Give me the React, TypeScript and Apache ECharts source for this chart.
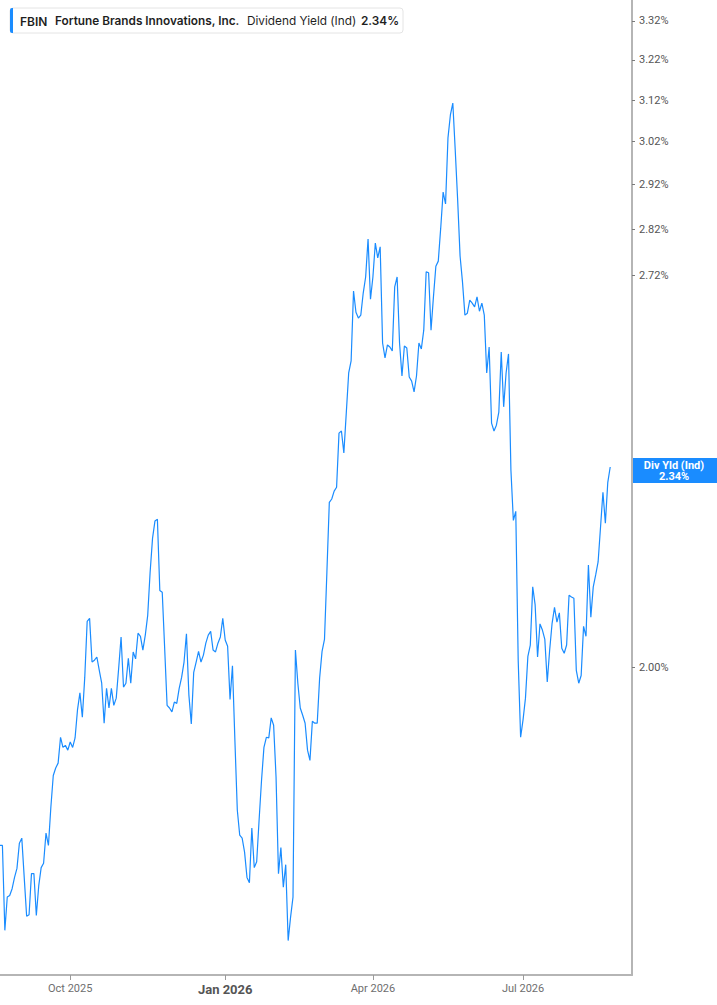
import React, { useEffect, useRef } from "react";
import * as echarts from "echarts";

// ---- data ----
const START_DATE = "2025-08-20";
const SESSION_COUNT = 262;
const HOLIDAYS = [
  "2025-09-01", "2025-11-27", "2025-12-25", "2026-01-01", "2026-01-19",
  "2026-02-16", "2026-04-03", "2026-05-25", "2026-06-19", "2026-07-03", "2026-09-07",
];
const yieldValues = [
  1.739, 1.739, 1.627, 1.670, 1.672, 1.681, 1.696, 1.708, 1.742, 1.749,
  1.696, 1.645, 1.647, 1.701, 1.701, 1.646, 1.685, 1.709, 1.715, 1.756,
  1.739, 1.792, 1.837, 1.848, 1.855, 1.893, 1.878, 1.881, 1.874, 1.886,
  1.878, 1.892, 1.934, 1.960, 1.923, 1.984, 2.073, 2.078, 2.008, 2.011,
  2.016, 1.995, 1.975, 1.914, 1.967, 1.937, 1.967, 1.941, 1.952, 1.998,
  2.048, 1.969, 1.975, 2.014, 1.975, 2.024, 2.013, 2.054, 2.049, 2.027,
  2.051, 2.083, 2.155, 2.213, 2.243, 2.246, 2.124, 2.121, 2.030, 1.941,
  1.937, 1.931, 1.946, 1.944, 1.967, 1.984, 2.008, 2.053, 1.957, 1.913,
  1.992, 2.008, 2.025, 2.008, 2.019, 2.038, 2.051, 2.057, 2.027, 2.024,
  2.038, 2.048, 2.078, 2.043, 2.033, 1.950, 2.002, 1.889, 1.788, 1.753,
  1.749, 1.730, 1.696, 1.689, 1.763, 1.709, 1.717, 1.774, 1.830, 1.878,
  1.893, 1.892, 1.922, 1.911, 1.835, 1.701, 1.736, 1.683, 1.713, 1.614,
  1.644, 1.670, 2.027, 1.975, 1.937, 1.926, 1.914, 1.874, 1.859, 1.917,
  1.914, 1.914, 1.983, 2.025, 2.044, 2.155, 2.276, 2.282, 2.296, 2.303,
  2.403, 2.407, 2.366, 2.441, 2.519, 2.543, 2.686, 2.642, 2.630, 2.636,
  2.682, 2.716, 2.798, 2.669, 2.716, 2.789, 2.757, 2.781, 2.579, 2.549,
  2.575, 2.571, 2.563, 2.695, 2.716, 2.579, 2.513, 2.573, 2.569, 2.511,
  2.503, 2.482, 2.513, 2.579, 2.567, 2.605, 2.727, 2.725, 2.605, 2.674,
  2.739, 2.750, 2.822, 2.903, 2.876, 3.029, 3.084, 3.113, 3.000, 2.885,
  2.761, 2.705, 2.636, 2.640, 2.667, 2.661, 2.653, 2.674, 2.644, 2.661,
  2.636, 2.519, 2.571, 2.422, 2.407, 2.418, 2.443, 2.561, 2.453, 2.519,
  2.557, 2.334, 2.244, 2.260, 2.011, 1.893, 1.919, 1.952, 2.017, 2.035,
  2.130, 2.100, 2.016, 2.069, 2.059, 2.044, 1.977, 2.027, 2.070, 2.096,
  2.072, 2.087, 2.030, 2.022, 2.035, 2.116, 2.113, 2.111, 1.995, 1.975,
  1.987, 2.065, 2.049, 2.167, 2.080, 2.130, 2.150, 2.172, 2.232, 2.294,
  2.239, 2.312, 2.340,
];
const yTickValues = [2.0, 2.72, 2.82, 2.92, 3.02, 3.12, 3.22, 3.32];
const Y_MIN = 1.571;
const Y_MAX = 3.375;
const quarterMonths = [0, 3, 6, 9];
const monthNames = ["Jan", "Feb", "Mar", "Apr", "May", "Jun", "Jul", "Aug", "Sep", "Oct", "Nov", "Dec"];
const LAST_VALUE = 2.34;
const TICKER = "FBIN";
const COMPANY = "Fortune Brands Innovations, Inc.";
const METRIC = "Dividend Yield (Ind)";
const SHORT_METRIC = "Div Yld (Ind)";

const BLUE = "#1a8cff";

function tradingDays(start: string, count: number, holidays: string[]): string[] {
  const out: string[] = [];
  const d = new Date(start + "T00:00:00Z");
  while (out.length < count) {
    const dow = d.getUTCDay();
    const s = d.toISOString().slice(0, 10);
    if (dow !== 0 && dow !== 6 && holidays.indexOf(s) < 0) out.push(s);
    d.setUTCDate(d.getUTCDate() + 1);
  }
  return out;
}

export default function App() {
  const ref = useRef<HTMLDivElement>(null);

  useEffect(() => {
    if (!ref.current) return;
    const chart = echarts.init(ref.current, undefined, { renderer: "svg" });
    const dates = tradingDays(START_DATE, SESSION_COUNT, HOLIDAYS);
    const isQuarterStart = dates.map((d, i) => {
      if (i === 0) return false;
      const m = parseInt(d.slice(5, 7), 10) - 1;
      const pm = parseInt(dates[i - 1].slice(5, 7), 10) - 1;
      return m !== pm && quarterMonths.indexOf(m) >= 0;
    });
    const pct = (v: number) => v.toFixed(2) + "%";

    chart.setOption({
      animation: false,
      backgroundColor: "#ffffff",
      grid: { left: -1.5, right: 85, top: 0, bottom: 30 },
      xAxis: {
        type: "category",
        data: dates,
        boundaryGap: false,
        axisLine: { show: true, lineStyle: { color: "#b5b5b5", width: 2 } },
        axisTick: {
          show: true,
          interval: (i: number) => isQuarterStart[i],
          length: 5,
          lineStyle: { color: "#9a9a9a", width: 1 },
        },
        axisLabel: {
          interval: (i: number) => isQuarterStart[i],
          margin: 8,
          color: "#6e6e6e",
          fontSize: 11,
          fontFamily: "Roboto, sans-serif",
          formatter: (v: string) => {
            const m = parseInt(v.slice(5, 7), 10) - 1;
            const label = monthNames[m] + " " + v.slice(0, 4);
            return m === 0 ? "{b|" + label + "}" : label;
          },
          rich: {
            b: { fontWeight: "bold", fontSize: 13, color: "#555555", fontFamily: "Roboto, sans-serif" },
          },
        },
        splitLine: { show: false },
      },
      yAxis: {
        type: "log",
        logBase: 10,
        position: "right",
        min: Y_MIN,
        max: Y_MAX,
        axisLine: { show: true, lineStyle: { color: "#b5b5b5", width: 2 } },
        axisTick: {
          show: true,
          customValues: yTickValues,
          length: 3,
          lineStyle: { color: "#7a7a7a", width: 1 },
        },
        axisLabel: {
          show: true,
          customValues: yTickValues,
          formatter: (v: number) => pct(v),
          color: "#555555",
          fontSize: 11,
          fontFamily: "Roboto, sans-serif",
          margin: 7,
        },
        splitLine: { show: false },
        minorTick: { show: false },
      },
      series: [
        {
          type: "line",
          data: yieldValues,
          symbol: "none",
          showSymbol: false,
          lineStyle: { color: BLUE, width: 1.2 },
          clip: true,
        },
      ],
    });

    const yPix = chart.convertToPixel({ yAxisIndex: 0 }, LAST_VALUE) as number;
    const labelTop = Math.round(yPix) - 9;

    chart.setOption({
      graphic: [
        {
          type: "rect",
          shape: { x: 10, y: 8, width: 393, height: 25, r: 3 },
          style: { fill: "#ffffff", stroke: "#e4e4e4", lineWidth: 1 },
        },
        {
          type: "rect",
          shape: { x: 10, y: 8, width: 3, height: 25, r: [2, 0, 0, 2] },
          style: { fill: BLUE },
        },
        {
          type: "text",
          x: 20,
          y: 21,
          style: { text: TICKER, fill: "#1f1f1f", fontSize: 12, fontWeight: 600, fontFamily: "Inter, sans-serif", verticalAlign: "middle" },
        },
        {
          type: "text",
          x: 55,
          y: 21,
          style: { text: COMPANY, fill: "#1f1f1f", fontSize: 11.8, fontWeight: 600, fontFamily: "Inter, sans-serif", verticalAlign: "middle" },
        },
        {
          type: "text",
          x: 247,
          y: 21,
          style: { text: METRIC, fill: "#1f1f1f", fontSize: 11.8, fontWeight: 400, fontFamily: "Inter, sans-serif", verticalAlign: "middle" },
        },
        {
          type: "text",
          x: 361,
          y: 21,
          style: { text: pct(LAST_VALUE), fill: "#1f1f1f", fontSize: 11.8, fontWeight: 600, fontFamily: "Inter, sans-serif", verticalAlign: "middle" },
        },
        {
          type: "rect",
          shape: { x: 632, y: labelTop, width: 85, height: 25 },
          style: { fill: BLUE },
        },
        {
          type: "text",
          x: 674,
          y: labelTop + 7,
          style: { text: SHORT_METRIC, fill: "#ffffff", fontSize: 11, fontWeight: "bold", fontFamily: "Roboto, sans-serif", align: "center", verticalAlign: "middle" },
        },
        {
          type: "text",
          x: 674,
          y: labelTop + 18,
          style: { text: pct(LAST_VALUE), fill: "#ffffff", fontSize: 11, fontWeight: "bold", fontFamily: "Roboto, sans-serif", align: "center", verticalAlign: "middle" },
        },
      ],
    });

    return () => chart.dispose();
  }, []);

  return (
    <div
      ref={ref}
      style={{ position: "absolute", left: 0, top: 0, width: 717, height: 1005 }}
    />
  );
}
